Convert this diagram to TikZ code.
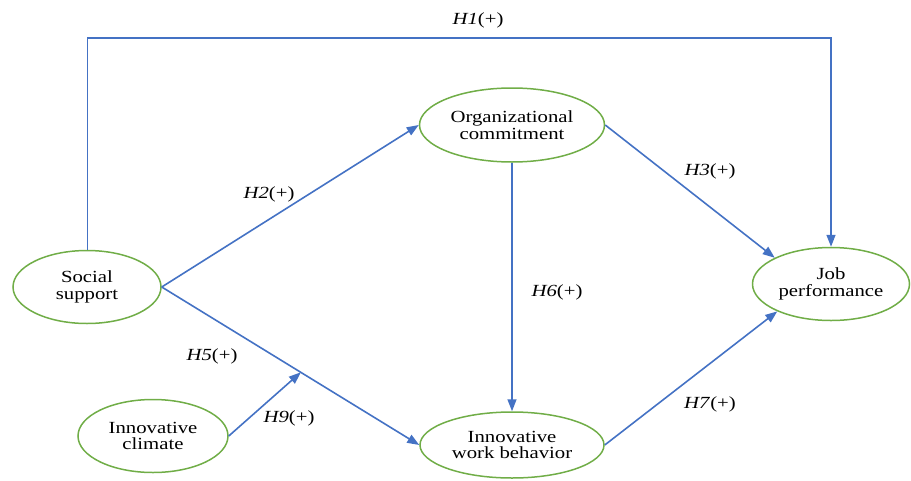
\documentclass[tikz,border=0pt]{standalone}
\usepackage{fontspec}
\setmainfont[FakeStretch=1.22]{Liberation Serif}
\usetikzlibrary{shapes.geometric,arrows.meta,calc}
\definecolor{ogreen}{RGB}{112,173,71}
\definecolor{oblue}{RGB}{68,114,196}
\tikzset{
  construct/.style={ellipse,draw=ogreen,line width=1.5pt,inner sep=0pt,align=center,
    font=\fontsize{17}{16.5}\selectfont},
  path/.style={draw=oblue,line width=1.6pt,-{Triangle[length=12pt,width=9pt]}},
  hlabel/.style={font=\fontsize{17}{17}\selectfont,inner sep=0pt}
}
\newcommand{\hyp}[1]{\textit{H#1}(+)}
\begin{document}
\begin{tikzpicture}[x=1pt,y=-1pt]
\useasboundingbox (0,0) rectangle (911,480);
\node[construct,minimum width=148pt,minimum height=73pt] (SS) at (87,287) {Social\\support};
\node[construct,minimum width=185pt,minimum height=74pt] (OC) at (512,125) {Organizational\\commitment};
\node[construct,minimum width=184pt,minimum height=66pt] (IWB) at (512,445) {Innovative\\work behavior};
\node[construct,minimum width=157pt,minimum height=73pt] (JP) at (831,284) {Job\\performance};
\node[construct,minimum width=150pt,minimum height=73pt] (IC) at (153,436) {Innovative\\climate};
\coordinate (h1a) at (87,38);
\coordinate (h1b) at (831,38);
\coordinate (h9t) at ($(SS.east)!0.54!(IWB.west)$);
\draw[oblue,line width=0.8pt] (SS.north) -- (h1a);
\draw[path] (h1a) -- (h1b) -- (JP.north);
\draw[path] (SS.east) -- (OC.west);
\draw[path] (SS.east) -- (IWB.west);
\draw[path] (IC.east) -- (h9t);
\draw[path] (OC.south) -- (IWB.north);
\draw[path] (OC.east) -- (JP.155);
\draw[path] (IWB.east) -- (JP.207);
\node[hlabel] (l1) at (478,20) {\hyp{1}};
\node[hlabel] (l2) at (269,194) {\hyp{2}};
\node[hlabel] (l3) at (710,171) {\hyp{3}};
\node[hlabel] (l5) at (212,356) {\hyp{5}};
\node[hlabel] (l6) at (557,292) {\hyp{6}};
\node[hlabel] (l7) at (710,404) {\hyp{7}};
\node[hlabel] (l9) at (289,418) {\hyp{9}};
\end{tikzpicture}
\end{document}
